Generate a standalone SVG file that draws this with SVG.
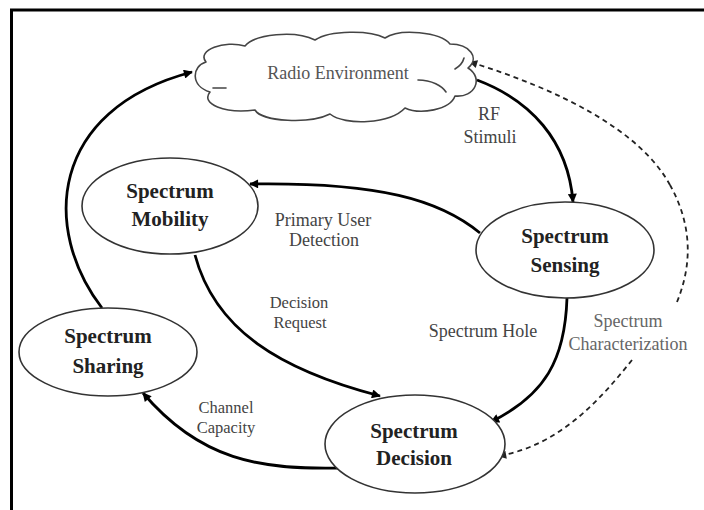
<svg xmlns="http://www.w3.org/2000/svg" width="704" height="510" viewBox="0 0 704 510">
  <style>
    .frame { stroke: #000; stroke-width: 3; fill: none; }
    .node { fill: #fff; stroke: #333; stroke-width: 1.6; }
    .cloud { fill: #fff; stroke: #444; stroke-width: 1.6; stroke-linejoin: round; }
    .hint { fill: none; stroke: #444; stroke-width: 1.6; stroke-linecap: round; }
    .title { font-family: "Liberation Serif", "Times New Roman", serif; font-size: 21px; font-weight: bold; fill: #222; text-anchor: middle; }
    .env { font-family: "Liberation Serif", "Times New Roman", serif; font-size: 18px; fill: #555; text-anchor: middle; }
    .lbl { font-family: "Liberation Serif", "Times New Roman", serif; font-size: 18px; fill: #444; text-anchor: middle; }
    .lbl-sm { font-family: "Liberation Serif", "Times New Roman", serif; font-size: 16.5px; fill: #444; text-anchor: middle; }
    .lbl-light { font-family: "Liberation Serif", "Times New Roman", serif; font-size: 18px; fill: #666; text-anchor: middle; }
    .flow { fill: none; stroke: #000; stroke-width: 2.8; marker-end: url(#head); }
    .dash { fill: none; stroke: #222; stroke-width: 1.8; stroke-dasharray: 5 4; }
  </style>
  <defs>
    <marker id="head" viewBox="0 0 10 10" refX="9" refY="5" markerWidth="11" markerHeight="9" markerUnits="userSpaceOnUse" orient="auto">
      <path d="M0,0 L10,5 L0,10 z" fill="#000"/>
    </marker>
    <marker id="head-small" viewBox="0 0 10 10" refX="9" refY="5" markerWidth="9" markerHeight="8" markerUnits="userSpaceOnUse" orient="auto">
      <path d="M0,0 L10,5 L0,10 z" fill="#222"/>
    </marker>
  </defs>

  <rect x="0" y="0" width="704" height="510" fill="#fff"/>

  <!-- outer frame: top and left edges -->
  <path class="frame" d="M11.5,510 L11.5,10 L704,10"/>

  <!-- connectors -->
  <g id="connectors">
    <!-- Spectrum Sharing to Radio Environment -->
    <path class="flow" d="M102,308 C42,230 48,110 192,72"/>
    <!-- Radio Environment to Spectrum Sensing (RF Stimuli) -->
    <path class="flow" d="M477,80 C530,100 568,140 573,202"/>
    <!-- Spectrum Sensing to Spectrum Mobility (Primary User Detection) -->
    <path class="flow" d="M480,233 C440,200 380,182 250,184"/>
    <!-- Spectrum Mobility to Spectrum Decision (Decision Request) -->
    <path class="flow" d="M195,255 C215,330 280,370 380,396"/>
    <!-- Spectrum Sensing to Spectrum Decision (Spectrum Hole) -->
    <path class="flow" d="M567,298 C565,360 545,395 491,422"/>
    <!-- Spectrum Decision to Spectrum Sharing (Channel Capacity) -->
    <path class="flow" d="M340,468 C260,470 200,460 143,393"/>
    <!-- Spectrum Characterization: dashed link between Radio Environment and Spectrum Decision,
         broken where its label sits -->
    <path class="dash" d="M670,185 C640,130 560,90 470,62" marker-end="url(#head-small)"/>
    <path class="dash" d="M677,302 C690,270 695,230 670,185"/>
    <path class="dash" d="M632,360 C600,400 560,445 499,456" marker-end="url(#head-small)"/>
  </g>

  <!-- Radio Environment cloud -->
  <g id="radio-environment">
    <path class="cloud" d="M206,62 C196,50 225,40 245,46 C255,34 295,30 315,40 C330,30 370,30 385,38 C400,28 440,32 450,44 C470,44 480,58 468,68 C484,78 475,98 455,96 C450,110 420,115 405,108 C390,124 345,126 330,114 C310,124 262,122 255,110 C225,114 200,104 210,92 C190,86 192,66 206,62 Z"/>
    <path class="hint" d="M213,88 L226,88"/>
    <path class="hint" d="M418,80 C432,80 442,86 446,92"/>
    <path class="hint" d="M455,69 C460,66 463,62 464,58"/>
    <text class="env" x="338" y="79">Radio Environment</text>
  </g>

  <!-- Spectrum Mobility -->
  <g id="spectrum-mobility">
    <ellipse class="node" cx="170" cy="206" rx="88" ry="48"/>
    <text class="title" x="170" y="198">Spectrum</text>
    <text class="title" x="170" y="226">Mobility</text>
  </g>

  <!-- Spectrum Sensing -->
  <g id="spectrum-sensing">
    <ellipse class="node" cx="565" cy="250" rx="89" ry="48"/>
    <text class="title" x="565" y="243">Spectrum</text>
    <text class="title" x="565" y="272">Sensing</text>
  </g>

  <!-- Spectrum Sharing -->
  <g id="spectrum-sharing">
    <ellipse class="node" cx="108" cy="352" rx="89" ry="44"/>
    <text class="title" x="108" y="343">Spectrum</text>
    <text class="title" x="108" y="373">Sharing</text>
  </g>

  <!-- Spectrum Decision -->
  <g id="spectrum-decision">
    <ellipse class="node" cx="415" cy="444" rx="90" ry="49"/>
    <text class="title" x="414" y="438">Spectrum</text>
    <text class="title" x="414" y="465">Decision</text>
  </g>

  <!-- connector labels -->
  <g id="labels">
    <text class="lbl" x="489" y="120">RF</text>
    <text class="lbl" x="490" y="143">Stimuli</text>
    <text class="lbl" x="323" y="226">Primary User</text>
    <text class="lbl" x="324" y="246">Detection</text>
    <text class="lbl-sm" x="299" y="308">Decision</text>
    <text class="lbl-sm" x="300" y="328">Request</text>
    <text class="lbl" x="483" y="337">Spectrum Hole</text>
    <text class="lbl-light" x="628" y="327">Spectrum</text>
    <text class="lbl-light" x="628" y="350">Characterization</text>
    <text class="lbl-sm" x="226" y="413">Channel</text>
    <text class="lbl-sm" x="226" y="433">Capacity</text>
  </g>
</svg>
